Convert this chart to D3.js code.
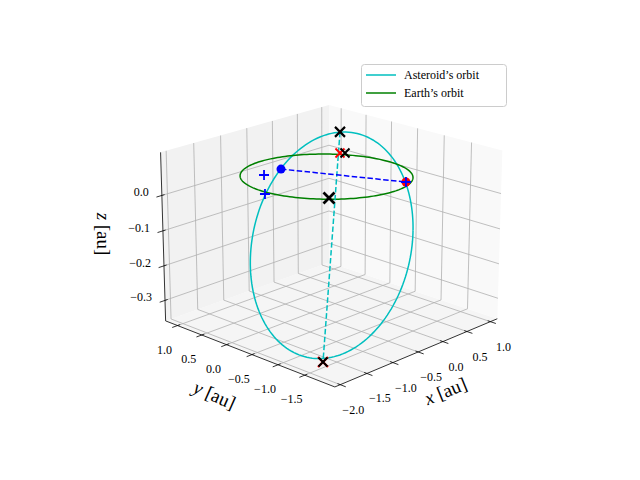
<!DOCTYPE html><html><head><meta charset="utf-8"><script src="https://cdn.jsdelivr.net/npm/d3@7"></script>
<style>body{margin:0;background:#fff}text{font-family:"Liberation Serif","DejaVu Serif",serif}</style></head><body><svg id="c" width="640" height="480"></svg>
<script>
// axis limits and ticks
const xlim=[-2.1,1.15], ylim=[-2.05,1.25], zlim=[-0.36,0.12];
const xTicks=[-2.0,-1.5,-1.0,-0.5,0.0,0.5,1.0], yTicks=[-1.5,-1.0,-0.5,0.0,0.5,1.0], zTicks=[-0.3,-0.2,-0.1,0.0];
// orbits: centre and two conjugate semi-axis vectors [x,y,z] in au
const earthCenter=[0.070,0.238,0], earthAxisA=[0.804,-0.912,0], earthAxisB=[0.746,0.723,0];
const asteroidCenter=[-0.035,0.035,-0.194], asteroidAxisA=[0.812,-0.812,0.049], asteroidAxisB=[0,0,0.328];
// marked points
const apsisTop=[0.048,-0.048,0.138], apsisBottom=[-0.122,0.122,-0.536];
const asteroidPos=[-0.532,0.532,0.034], earthPos=[0.633,-0.761,0];
const bluePlus=[[-0.507,0.902,0],[-1.088,0.276,0]];
const blackX=[1.034,0.808,0], redX=[0.983,0.861,0], bigX=[-0.608,-0.479,0];
const legendLabels=['Asteroid\u2019s orbit','Earth\u2019s orbit'];

const cam0={e:19.5,a:-136,D:16.75,s:1994,ox:331.7,oy:236.9};
function mkcam(e,a,D){e*=Math.PI/180;a*=Math.PI/180;const eye=[D*Math.cos(e)*Math.cos(a),D*Math.cos(e)*Math.sin(a),D*Math.sin(e)];
const n=Math.hypot(...eye);const w=eye.map(v=>v/n);let u=[-w[1],w[0],0];const un=Math.hypot(...u);u=u.map(v=>v/un);
const v=[w[1]*u[2]-w[2]*u[1],w[2]*u[0]-w[0]*u[2],w[0]*u[1]-w[1]*u[0]];return {eye,u,v,w};}
const cam=mkcam(cam0.e,cam0.a,cam0.D);
function raw(P){const c=cam;const d=[P[0]-c.eye[0],P[1]-c.eye[1],P[2]-c.eye[2]];const dz=-(d[0]*c.w[0]+d[1]*c.w[1]+d[2]*c.w[2]);
return [(d[0]*c.u[0]+d[1]*c.u[1]+d[2]*c.u[2])/dz,(d[0]*c.v[0]+d[1]*c.v[1]+d[2]*c.v[2])/dz];}
const sx=d3.scaleLinear().domain(xlim).range([-1,1]),sy=d3.scaleLinear().domain(ylim).range([-1,1]),sz=d3.scaleLinear().domain(zlim).range([-0.75,0.75]);
function pr(x,y,z){const r=raw([sx(x),sy(y),sz(z)]);return [cam0.ox+cam0.s*r[0],cam0.oy-cam0.s*r[1]];}
const svg=d3.select('#c');
const pts=a=>a.map(p=>pr(...p));
const path=d3.line();
const X0=xlim[0],X1=xlim[1],Y0=ylim[0],Y1=ylim[1],Zb=zlim[0],Zt=zlim[1];
svg.append('path').attr('d',path(pts([[X0,Y0,Zb],[X1,Y0,Zb],[X1,Y1,Zb],[X0,Y1,Zb]]))+'Z').attr('fill','#f5f5f5');
svg.append('path').attr('d',path(pts([[X1,Y0,Zb],[X1,Y1,Zb],[X1,Y1,Zt],[X1,Y0,Zt]]))+'Z').attr('fill','#f9f9f9');
svg.append('path').attr('d',path(pts([[X0,Y1,Zb],[X1,Y1,Zb],[X1,Y1,Zt],[X0,Y1,Zt]]))+'Z').attr('fill','#f2f2f2');
const grid=svg.append('g').attr('stroke','#b0b0b0').attr('stroke-width',0.8).attr('fill','none');
const gl=(a,b)=>grid.append('path').attr('d',path(pts([a,b])));
xTicks.forEach(t=>{gl([t,Y0,Zb],[t,Y1,Zb]);gl([t,Y1,Zb],[t,Y1,Zt]);});
yTicks.forEach(t=>{gl([X0,t,Zb],[X1,t,Zb]);gl([X1,t,Zb],[X1,t,Zt]);});
zTicks.forEach(t=>{gl([X0,Y1,t],[X1,Y1,t]);gl([X1,Y1,t],[X1,Y0,t]);});
const ax=svg.append('g').attr('stroke','#000').attr('stroke-width',0.8).attr('fill','none');
const al=(a,b)=>ax.append('path').attr('d',path(pts([a,b])));
al([X0,Y0,Zb],[X1,Y0,Zb]);al([X0,Y0,Zb],[X0,Y1,Zb]);al([X0,Y1,Zb],[X0,Y1,Zt]);
const yr=Y1-Y0,xr=X1-X0;
xTicks.forEach(t=>al([t,Y0+0.015*yr,Zb],[t,Y0-0.03*yr,Zb]));
yTicks.forEach(t=>al([X0+0.015*xr,t,Zb],[X0-0.03*xr,t,Zb]));
zTicks.forEach(t=>al([X0+0.015*xr,Y1,t],[X0-0.03*xr,Y1,t]));
const tl=svg.append('g').attr('font-size',12).attr('fill','#000');
const fmt=v=>(v<0?'\u2212':'')+Math.abs(v).toFixed(1);
xTicks.forEach(t=>{const p=pr(t,Y0,Zb);tl.append('text').attr('x',p[0]+13).attr('y',p[1]+29).attr('text-anchor','middle').text(fmt(t));});
yTicks.forEach(t=>{const p=pr(X0,t,Zb);tl.append('text').attr('x',p[0]-13).attr('y',p[1]+28).attr('text-anchor','middle').text(fmt(t));});
zTicks.forEach(t=>{const p=pr(X0,Y1,t);tl.append('text').attr('x',p[0]-13).attr('y',p[1]+1).attr('text-anchor','end').text(fmt(t));});
const lab=(x,y,r,s)=>{const t=svg.append('text').attr('transform',`translate(${x},${y}) rotate(${r})`).attr('text-anchor','middle').attr('font-size',19);
t.append('tspan').attr('font-style','italic').text(s);t.append('tspan').text(' [au]');};
lab(448,397,-22,'x');lab(212,401,24,'y');lab(97,234,90,'z');
const T=d3.range(0,361,2).map(d=>d*Math.PI/180);
const ell=(C,A,Bv)=>T.map(t=>[0,1,2].map(i=>C[i]+Math.cos(t)*A[i]+Math.sin(t)*Bv[i]));
svg.append('path').attr('d',path(pts(ell(asteroidCenter,asteroidAxisA,asteroidAxisB)))).attr('fill','none').attr('stroke','#00bfbf').attr('stroke-width',1.5);
svg.append('path').attr('d',path(pts(ell(earthCenter,earthAxisA,earthAxisB)))).attr('fill','none').attr('stroke','#008000').attr('stroke-width',1.5);
svg.append('path').attr('d',path(pts([apsisTop,apsisBottom]))).attr('fill','none').attr('stroke','#00bfbf').attr('stroke-width',1.5).attr('stroke-dasharray','5.5,2.4');
svg.append('path').attr('d',path(pts([asteroidPos,earthPos]))).attr('fill','none').attr('stroke','#0000ff').attr('stroke-width',1.5).attr('stroke-dasharray','5.5,2.4');
const xm=(p,c,s,w)=>{const q=pr(...p);svg.append('path').attr('d',`M${q[0]-s},${q[1]-s}L${q[0]+s},${q[1]+s}M${q[0]-s},${q[1]+s}L${q[0]+s},${q[1]-s}`).attr('stroke',c).attr('stroke-width',w);};
const plus=(p,c,s,w)=>{const q=pr(...p);svg.append('path').attr('d',`M${q[0]-s},${q[1]}L${q[0]+s},${q[1]}M${q[0]},${q[1]-s}L${q[0]},${q[1]+s}`).attr('stroke',c).attr('stroke-width',w);};
const dot=(p,c,r)=>{const q=pr(...p);svg.append('circle').attr('cx',q[0]).attr('cy',q[1]).attr('r',r).attr('fill',c);};
dot(asteroidPos,'#0000ff',4.5);dot(earthPos,'#ff0000',4.5);plus(earthPos,'#0000ff',5,1.8);
bluePlus.forEach(p=>plus(p,'#0000ff',5,1.8));
xm(redX,'#ff0000',4.5,1.8);xm(blackX,'#000',4.5,2);
xm(apsisTop,'#000',5,2.2);xm(apsisBottom,'#ff0000',5,2.2);xm(apsisBottom,'#000',4.5,2);xm(bigX,'#000',5.5,2.8);
const lg=svg.append('g');
lg.append('rect').attr('x',361.5).attr('y',64.5).attr('width',145).attr('height',42).attr('rx',3).attr('fill','#fff').attr('fill-opacity',0.8).attr('stroke','#ccc');
[[legendLabels[0],'#00bfbf',75],[legendLabels[1],'#008000',93]].forEach(d=>{lg.append('line').attr('x1',366).attr('x2',396).attr('y1',d[2]).attr('y2',d[2]).attr('stroke',d[1]).attr('stroke-width',1.5);
lg.append('text').attr('x',404).attr('y',d[2]+4).attr('font-size',12).text(d[0]);});
</script></body></html>
